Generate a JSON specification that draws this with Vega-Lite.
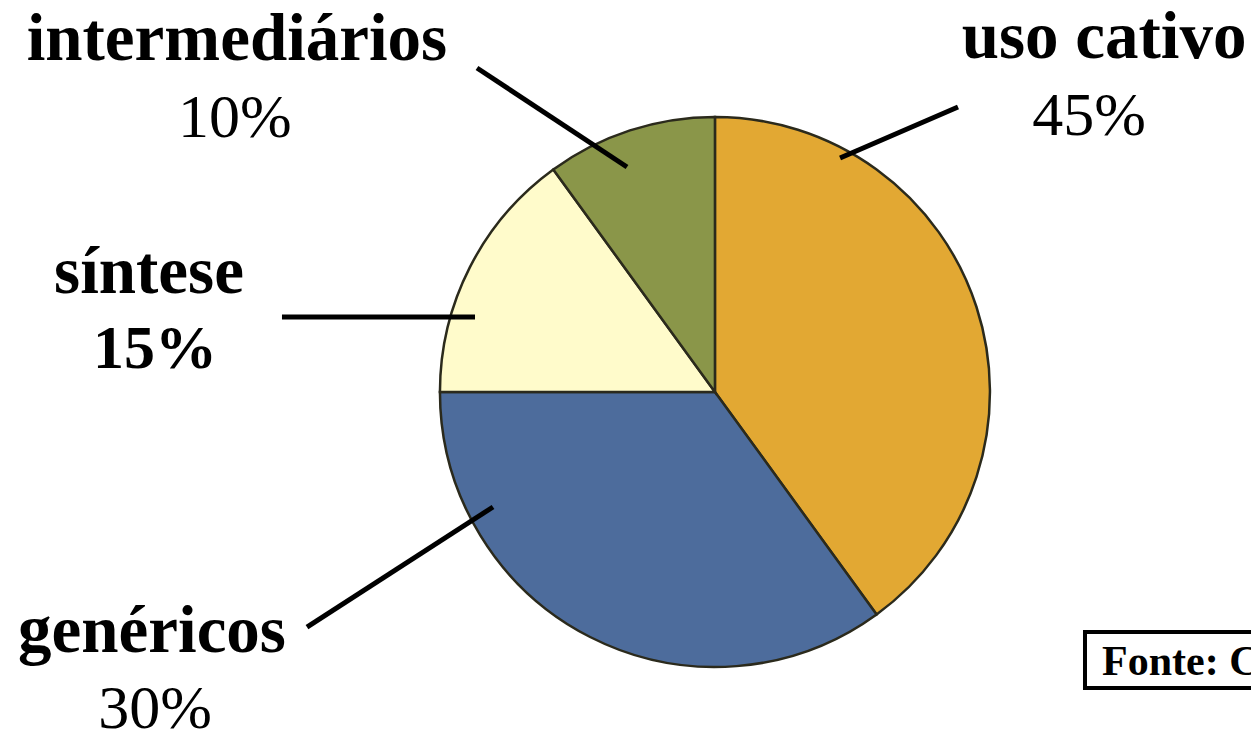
{
  "$schema": "https://vega.github.io/schema/vega-lite/v6.json",
  "width": 1251,
  "height": 735,
  "autosize": "none",
  "padding": 0,
  "background": "white",
  "config": {"view": {"stroke": null}},
  "datasets": {
    "slices": [
      {"segment": "uso cativo", "start": 0, "end": 40, "cx": 57.15, "cy": 46.67},
      {"segment": "genéricos", "start": 40, "end": 75, "cx": 57.15, "cy": 46.67},
      {"segment": "síntese", "start": 75, "end": 90, "cx": 57.15, "cy": 46.67},
      {"segment": "intermediários", "start": 90, "end": 100, "cx": 57.15, "cy": 46.67}
    ],
    "leaders": [
      {"segment": "intermediários", "x": 38.13, "y": 90.75, "x2": 50.12, "y2": 77.28},
      {"segment": "uso cativo", "x": 67.15, "y": 78.5, "x2": 76.58, "y2": 85.44},
      {"segment": "síntese", "x": 22.54, "y": 56.87, "x2": 37.97, "y2": 56.87},
      {"segment": "genéricos", "x": 24.54, "y": 14.69, "x2": 39.41, "y2": 31.02}
    ],
    "labels": [
      {"kind": "name", "text": "intermediários", "x": 18.94, "y": 91.84},
      {"kind": "pct", "text": "10%", "x": 18.78, "y": 81.36},
      {"kind": "name", "text": "uso cativo", "x": 88.25, "y": 92.11},
      {"kind": "pct", "text": "45%", "x": 87.05, "y": 81.63},
      {"kind": "name", "text": "síntese", "x": 11.91, "y": 60.14},
      {"kind": "pctb", "text": "15%", "x": 12.39, "y": 49.93},
      {"kind": "name", "text": "genéricos", "x": 12.15, "y": 11.29},
      {"kind": "pct", "text": "30%", "x": 12.39, "y": 0.9}
    ],
    "source": [
      {"text": "Fonte: Chemical Week", "x": 88.09, "y": 8.16, "bx": 86.73, "bx2": 104, "by": 14.01, "by2": 6.39}
    ]
  },
  "layer": [
    {
      "data": {"name": "slices"},
      "mark": {"type": "arc", "outerRadius": 275, "stroke": "#2b2a1c", "strokeWidth": 2.5},
      "encoding": {
        "x": {"field": "cx", "type": "quantitative", "scale": {"domain": [0, 100], "nice": false, "zero": false}, "axis": null},
        "y": {"field": "cy", "type": "quantitative", "scale": {"domain": [0, 100], "nice": false, "zero": false}, "axis": null},
        "theta": {"field": "start", "type": "quantitative", "stack": null, "scale": {"domain": [0, 100]}},
        "theta2": {"field": "end"},
        "color": {
          "field": "segment",
          "type": "nominal",
          "scale": {
            "domain": ["uso cativo", "genéricos", "síntese", "intermediários"],
            "range": ["#E2A833", "#4D6C9C", "#FFFBCB", "#8A9649"]
          },
          "legend": null
        }
      }
    },
    {
      "data": {"name": "leaders"},
      "mark": {"type": "rule", "strokeWidth": 5, "color": "#000000"},
      "encoding": {
        "x": {"field": "x", "type": "quantitative", "scale": {"domain": [0, 100], "nice": false, "zero": false}, "axis": null},
        "y": {"field": "y", "type": "quantitative", "scale": {"domain": [0, 100], "nice": false, "zero": false}, "axis": null},
        "x2": {"field": "x2"},
        "y2": {"field": "y2"}
      }
    },
    {
      "data": {"name": "labels"},
      "transform": [{"filter": "datum.kind === 'name'"}],
      "mark": {"type": "text", "font": "Liberation Serif", "fontWeight": "bold", "fontSize": 67, "align": "center", "baseline": "alphabetic", "color": "#000000"},
      "encoding": {
        "x": {"field": "x", "type": "quantitative", "scale": {"domain": [0, 100], "nice": false, "zero": false}, "axis": null},
        "y": {"field": "y", "type": "quantitative", "scale": {"domain": [0, 100], "nice": false, "zero": false}, "axis": null},
        "text": {"field": "text"}
      }
    },
    {
      "data": {"name": "labels"},
      "transform": [{"filter": "datum.kind === 'pct'"}],
      "mark": {"type": "text", "font": "Liberation Serif", "fontWeight": "normal", "fontSize": 62, "align": "center", "baseline": "alphabetic", "color": "#000000"},
      "encoding": {
        "x": {"field": "x", "type": "quantitative", "scale": {"domain": [0, 100], "nice": false, "zero": false}, "axis": null},
        "y": {"field": "y", "type": "quantitative", "scale": {"domain": [0, 100], "nice": false, "zero": false}, "axis": null},
        "text": {"field": "text"}
      }
    },
    {
      "data": {"name": "labels"},
      "transform": [{"filter": "datum.kind === 'pctb'"}],
      "mark": {"type": "text", "font": "Liberation Serif", "fontWeight": "bold", "fontSize": 62, "align": "center", "baseline": "alphabetic", "color": "#000000"},
      "encoding": {
        "x": {"field": "x", "type": "quantitative", "scale": {"domain": [0, 100], "nice": false, "zero": false}, "axis": null},
        "y": {"field": "y", "type": "quantitative", "scale": {"domain": [0, 100], "nice": false, "zero": false}, "axis": null},
        "text": {"field": "text"}
      }
    },
    {
      "data": {"name": "source"},
      "mark": {"type": "rect", "fill": "white", "stroke": "#000000", "strokeWidth": 4},
      "encoding": {
        "x": {"field": "bx", "type": "quantitative", "scale": {"domain": [0, 100], "nice": false, "zero": false}, "axis": null},
        "y": {"field": "by", "type": "quantitative", "scale": {"domain": [0, 100], "nice": false, "zero": false}, "axis": null},
        "x2": {"field": "bx2"},
        "y2": {"field": "by2"}
      }
    },
    {
      "data": {"name": "source"},
      "mark": {"type": "text", "font": "Liberation Serif", "fontWeight": "bold", "fontSize": 42, "align": "left", "baseline": "alphabetic", "color": "#000000"},
      "encoding": {
        "x": {"field": "x", "type": "quantitative", "scale": {"domain": [0, 100], "nice": false, "zero": false}, "axis": null},
        "y": {"field": "y", "type": "quantitative", "scale": {"domain": [0, 100], "nice": false, "zero": false}, "axis": null},
        "text": {"field": "text"}
      }
    }
  ]
}
